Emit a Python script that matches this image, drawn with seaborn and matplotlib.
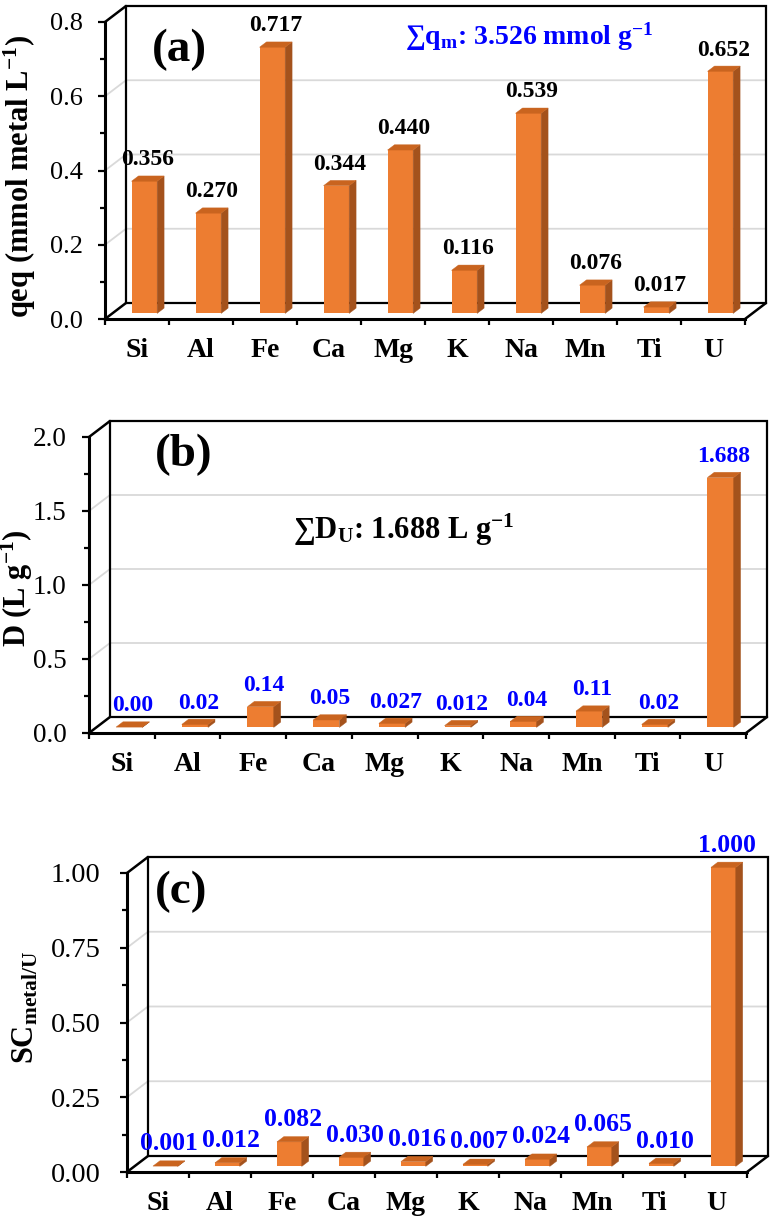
import numpy as np
import pandas as pd
import matplotlib
matplotlib.use('Agg')
import matplotlib.pyplot as plt
import seaborn as sns
from matplotlib.patches import Polygon, Rectangle

# ---------------- data ----------------
metals = ['Si', 'Al', 'Fe', 'Ca', 'Mg', 'K', 'Na', 'Mn', 'Ti', 'U']
qeq_values = [0.356, 0.270, 0.717, 0.344, 0.440, 0.116, 0.539, 0.076, 0.017, 0.652]
qeq_labels = ['0.356', '0.270', '0.717', '0.344', '0.440', '0.116', '0.539', '0.076', '0.017', '0.652']
d_values = [0.002, 0.02, 0.14, 0.05, 0.027, 0.012, 0.04, 0.11, 0.02, 1.688]
d_labels = ['0.00', '0.02', '0.14', '0.05', '0.027', '0.012', '0.04', '0.11', '0.02', '1.688']
sc_values = [0.001, 0.012, 0.082, 0.030, 0.016, 0.007, 0.024, 0.065, 0.010, 1.000]
sc_labels = ['0.001', '0.012', '0.082', '0.030', '0.016', '0.007', '0.024', '0.065', '0.010', '1.000']

qeq_ticks = [0.0, 0.2, 0.4, 0.6, 0.8]
d_ticks = [0.0, 0.5, 1.0, 1.5, 2.0]
sc_ticks = [0.0, 0.25, 0.50, 0.75, 1.00]

# ---------------- style ----------------
sns.set_theme(style='ticks')
plt.rcParams['font.family'] = ['Liberation Serif', 'DejaVu Serif']
plt.rcParams['mathtext.fontset'] = 'custom'
plt.rcParams['mathtext.rm'] = 'Liberation Serif'
plt.rcParams['mathtext.bf'] = 'Liberation Serif:bold'
plt.rcParams['mathtext.it'] = 'Liberation Serif:italic'

FRONT = '#ED7D31'
SIDE = '#A4521C'
TOP = '#C9641F'
GRID = '#d9d9d9'
BLUE = '#0000FF'

W, H = 774, 1226
fig = plt.figure(figsize=(W / 100, H / 100), dpi=100)

DXP, DYP = 21, 16      # depth of the 3D box in pixels
F0, FD = 0.35, 0.33    # bar depth start / depth fraction


def panel(rect_px, values, labels, ticks, fmt, label_color, value_fs, tick_fs, tick_pad,
          ylabel, ylabel_xy, tag, tag_xy, note=None, note_xy=None,
          note_color='black', note_fs=20):
    l, t, r, b = rect_px
    ax = fig.add_axes([l / W, 1 - b / H, (r - l) / W, (b - t) / H])
    ax.set_facecolor('none')
    df = pd.DataFrame({'metal': metals, 'value': values})
    sns.barplot(data=df, x='metal', y='value', color=FRONT, saturation=1,
                width=0.4, ax=ax, linewidth=0, zorder=3)
    n = len(metals)
    ymax = ticks[-1]
    ax.set_xlim(-0.5, n - 0.5)
    ax.set_ylim(0, ymax)
    ux = n / (r - l)
    uy = ymax / (b - t)
    DX, DY = DXP * ux, DYP * uy
    x0, x1 = -0.5, n - 0.5

    # back wall + floor + side wall
    ax.add_patch(Rectangle((x0 + DX, DY), n, ymax, fill=False, ec='black',
                           lw=1.6, zorder=1, clip_on=False))
    for tv in ticks[1:-1]:
        ax.plot([x0, x0 + DX, x1 + DX], [tv, tv + DY, tv + DY], color=GRID,
                lw=1.3, zorder=0.5, clip_on=False)
    ax.plot([x0, x0 + DX], [0, DY], color='black', lw=1.8, zorder=1, clip_on=False)
    ax.plot([x1, x1 + DX], [0, DY], color='black', lw=1.8, zorder=1, clip_on=False)
    ax.plot([x0, x0 + DX], [ymax, ymax + DY], color='black', lw=1.8, zorder=1,
            clip_on=False)

    # 3D bars
    for p, lab in zip(ax.patches, labels):
        x = p.get_x()
        w = p.get_width()
        h = p.get_height()
        xs = x + F0 * DX
        ys = F0 * DY
        p.set_x(xs)
        p.set_y(ys)
        p.set_clip_on(False)
        ddx, ddy = FD * DX, FD * DY
        side = Polygon([(xs + w, ys), (xs + w, ys + h), (xs + w + ddx, ys + h + ddy),
                        (xs + w + ddx, ys + ddy)], closed=True, fc=SIDE, ec=SIDE,
                       lw=0.3, zorder=3, clip_on=False)
        top = Polygon([(xs, ys + h), (xs + w, ys + h), (xs + w + ddx, ys + h + ddy),
                       (xs + ddx, ys + h + ddy)], closed=True, fc=TOP, ec=TOP,
                      lw=0.3, zorder=3, clip_on=False)
        ax.add_patch(side)
        ax.add_patch(top)
        ax.annotate(lab, (xs + w / 2 + ddx / 2, ys + h + ddy), xytext=(0, 4),
                    textcoords='offset points', ha='center', va='bottom',
                    fontsize=value_fs, fontweight='bold', color=label_color,
                    zorder=5, annotation_clip=False)

    # spines
    for s in ['top', 'right']:
        ax.spines[s].set_visible(False)
    for s in ['left', 'bottom']:
        ax.spines[s].set_color('black')
        ax.spines[s].set_linewidth(2.2)

    # ticks
    ax.set_yticks(ticks)
    ax.set_yticklabels([fmt.format(v) for v in ticks])
    ax.set_yticks([(a + c) / 2 for a, c in zip(ticks[:-1], ticks[1:])], minor=True)
    ax.tick_params(axis='y', which='major', length=5, width=1.6, direction='out',
                   labelsize=tick_fs, pad=tick_pad, left=True, colors='black')
    ax.tick_params(axis='y', which='minor', length=3.5, width=1.6, direction='out',
                   left=True, color='black')
    ax.set_xticks(np.arange(-0.5, n, 1), minor=True)
    ax.tick_params(axis='x', which='major', length=0, pad=13.5, labelsize=20,
                   colors='black')
    ax.tick_params(axis='x', which='minor', length=4.5, width=1.6, direction='out',
                   bottom=True, color='black')
    for tl in ax.get_xticklabels():
        tl.set_fontweight('bold')

    ax.set_xlabel('')
    ax.set_ylabel(ylabel, fontsize=22, fontweight='bold', color='black')
    ax.yaxis.set_label_coords(*ylabel_xy)

    ax.text(tag_xy[0], tag_xy[1], tag, transform=ax.transAxes, fontsize=34,
            fontweight='bold', ha='left', va='center', color='black')
    if note is not None:
        ax.text(note_xy[0], note_xy[1], note, transform=ax.transAxes,
                fontsize=note_fs, fontweight='bold', ha='left', va='center',
                color=note_color)
    return ax


panel((105, 22, 745, 319), qeq_values, qeq_labels, qeq_ticks, '{:.1f}', 'black', 17, 19, 11,
      r'qeq (mmol metal L$^{\mathbf{-1}}$)', (-0.105, 0.48), '(a)', (0.073, 0.906),
      note=r'∑q$_{\mathbf{m}}$: 3.526 mmol g$^{\mathbf{-1}}$', note_xy=(0.469, 0.949),
      note_color=BLUE, note_fs=20)

panel((89, 437, 746, 733), d_values, d_labels, d_ticks, '{:.1f}', BLUE, 17, 19.5, 11,
      r'D (L g$^{\mathbf{-1}}$)', (-0.082, 0.49), '(b)', (0.100, 0.939),
      note=r'∑D$_{\mathbf{U}}$: 1.688 L g$^{\mathbf{-1}}$', note_xy=(0.3105, 0.686),
      note_color='black', note_fs=22)

panel((127, 873, 747, 1172), sc_values, sc_labels, sc_ticks, '{:.2f}', BLUE, 18.5, 20.5, 14,
      r'SC$_{\mathbf{metal/U}}$', (-0.14, 0.55), '(c)', (0.045, 0.936))

fig.savefig('out.png', dpi=100)
